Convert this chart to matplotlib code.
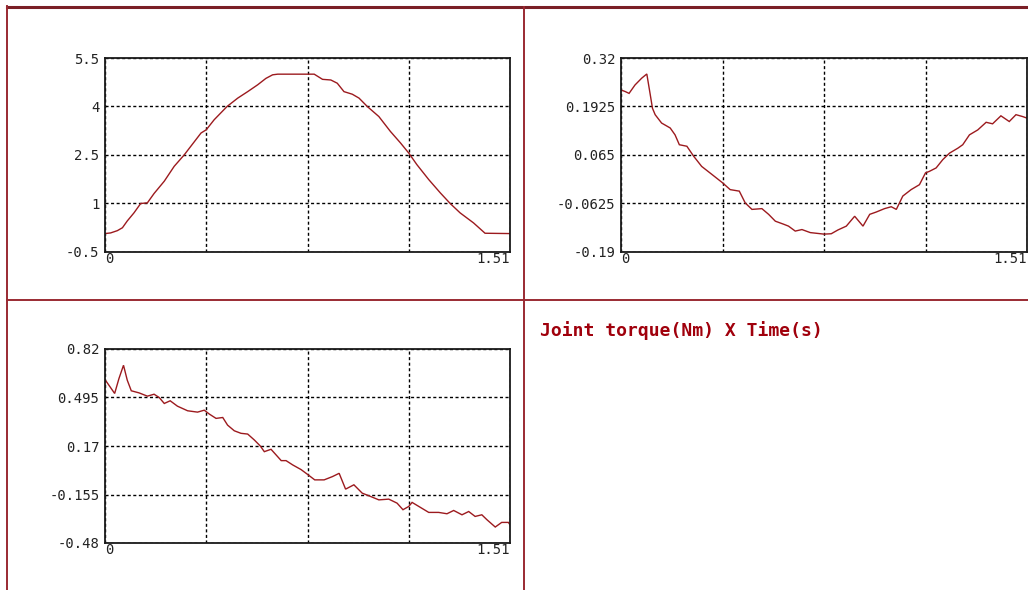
import matplotlib
matplotlib.use('Agg')
import matplotlib.pyplot as plt
from matplotlib.lines import Line2D

# ------------------------------------------------------------
# Joint torque samples (time in s, torque in Nm)
# ------------------------------------------------------------
t1 = [0.0, 0.021, 0.046, 0.065, 0.083, 0.108, 0.133, 0.158, 0.183, 0.221,
      0.258, 0.295, 0.320, 0.358, 0.3775, 0.407, 0.455, 0.495, 0.532, 0.569,
      0.600, 0.625, 0.644, 0.780, 0.811, 0.842, 0.866, 0.891, 0.922, 0.947,
      0.978, 1.021, 1.064, 1.102, 1.1325, 1.163, 1.207, 1.250, 1.287, 1.324,
      1.374, 1.417, 1.51]
tau1 = [0.07, 0.09, 0.16, 0.25, 0.46, 0.71, 1.0, 1.02, 1.31, 1.69,
        2.15, 2.5, 2.77, 3.18, 3.28, 3.59, 4.0, 4.26, 4.46, 4.67,
        4.87, 4.98, 5.0, 5.0, 4.84, 4.82, 4.72, 4.46, 4.38, 4.26,
        4.0, 3.69, 3.23, 2.87, 2.56, 2.20, 1.74, 1.33, 1.0, 0.71,
        0.40, 0.08, 0.07]

t2 = [0.0, 0.015, 0.030, 0.052, 0.077, 0.096, 0.108, 0.117, 0.127, 0.151,
      0.183, 0.201, 0.217, 0.245, 0.270, 0.300, 0.338, 0.3775, 0.406, 0.440,
      0.462, 0.487, 0.524, 0.549, 0.574, 0.605, 0.623, 0.648, 0.673, 0.704,
      0.755, 0.782, 0.807, 0.838, 0.869, 0.900, 0.925, 0.949, 0.980, 1.005,
      1.024, 1.048, 1.079, 1.110, 1.1325, 1.147, 1.172, 1.197, 1.222, 1.253,
      1.271, 1.296, 1.327, 1.358, 1.382, 1.413, 1.444, 1.469, 1.494, 1.51]
tau2 = [0.236, 0.232, 0.227, 0.249, 0.267, 0.278, 0.227, 0.188, 0.171, 0.149,
        0.136, 0.118, 0.092, 0.088, 0.062, 0.035, 0.014, -0.008, -0.026, -0.030,
        -0.061, -0.078, -0.076, -0.091, -0.109, -0.117, -0.122, -0.135, -0.131, -0.139,
        -0.143, -0.142, -0.132, -0.122, -0.096, -0.122, -0.091, -0.085, -0.076, -0.071,
        -0.078, -0.043, -0.026, -0.013, 0.018, 0.022, 0.031, 0.053, 0.070, 0.083,
        0.092, 0.118, 0.131, 0.151, 0.147, 0.168, 0.153, 0.171, 0.166, 0.162]

t3 = [0.0, 0.019, 0.036, 0.052, 0.069, 0.083, 0.098, 0.127, 0.158, 0.183,
      0.202, 0.221, 0.243, 0.270, 0.308, 0.345, 0.370, 0.389, 0.414, 0.439,
      0.457, 0.482, 0.507, 0.532, 0.557, 0.579, 0.594, 0.619, 0.638, 0.657,
      0.675, 0.700, 0.731, 0.755, 0.782, 0.817, 0.848, 0.873, 0.897, 0.928,
      0.959, 0.990, 1.021, 1.058, 1.089, 1.111, 1.1325, 1.145, 1.170, 1.207,
      1.244, 1.275, 1.300, 1.331, 1.356, 1.380, 1.405, 1.424, 1.455, 1.479,
      1.504, 1.51]
tau3 = [0.615, 0.566, 0.522, 0.622, 0.711, 0.611, 0.540, 0.526, 0.504, 0.517,
        0.495, 0.455, 0.473, 0.437, 0.406, 0.397, 0.410, 0.384, 0.355, 0.361,
        0.310, 0.272, 0.255, 0.250, 0.210, 0.170, 0.132, 0.148, 0.110, 0.072,
        0.072, 0.043, 0.012, -0.020, -0.057, -0.057, -0.035, -0.013, -0.119, -0.090,
        -0.146, -0.168, -0.191, -0.186, -0.213, -0.257, -0.235, -0.208, -0.235, -0.275,
        -0.275, -0.284, -0.262, -0.291, -0.269, -0.302, -0.291, -0.324, -0.373, -0.342,
        -0.342, -0.358]

t_end = 1.51
yticks1 = [-0.5, 1, 2.5, 4, 5.5]
ylabels1 = ['-0.5', '1', '2.5', '4', '5.5']
yticks2 = [-0.19, -0.0625, 0.065, 0.1925, 0.32]
ylabels2 = ['-0.19', '-0.0625', '0.065', '0.1925', '0.32']
yticks3 = [-0.48, -0.155, 0.17, 0.495, 0.82]
ylabels3 = ['-0.48', '-0.155', '0.17', '0.495', '0.82']

title_text = 'Joint torque(Nm) X Time(s)'

# ------------------------------------------------------------
# Figure layout (pixel based, 1028 x 590)
# ------------------------------------------------------------
W, H = 1028, 590
LINE_RED = '#9c1a1e'
FRAME_RED = '#9a2a32'

fig = plt.figure(figsize=(W / 100, H / 100), dpi=100, facecolor='white')


def px_axes(left, top, right, bottom):
    return fig.add_axes([left / W, 1 - bottom / H, (right - left) / W, (bottom - top) / H])


def style_axes(ax, t, tau, yticks, ylabels):
    ax.plot(t, tau, color=LINE_RED, lw=1.0, solid_joinstyle='miter')
    ax.set_xlim(0, t_end)
    ax.set_ylim(yticks[0], yticks[-1])
    ax.set_yticks(yticks)
    ax.set_yticklabels(ylabels)
    ax.set_xticks([0, t_end / 4, t_end / 2, 3 * t_end / 4, t_end])
    ax.set_xticklabels(['0', '', '', '', f'{t_end:g}'])
    ax.tick_params(length=0, labelsize=10, labelcolor='#222222', pad=4)
    ax.tick_params(axis='x', pad=0)
    xl = ax.get_xticklabels()
    xl[0].set_ha('left')
    xl[-1].set_ha('right')
    for lab in ax.get_xticklabels() + ax.get_yticklabels():
        lab.set_family('DejaVu Sans Mono')
    ax.grid(True, color='black', lw=1.0, linestyle=(0, (2.2, 1.8)))
    for s in ax.spines.values():
        s.set_color('#1a1a1a')
        s.set_linewidth(1.3)


ax1 = px_axes(105, 58, 510, 252)
style_axes(ax1, t1, tau1, yticks1, ylabels1)

ax2 = px_axes(621, 58, 1027, 252)
style_axes(ax2, t2, tau2, yticks2, ylabels2)

ax3 = px_axes(105, 349, 510, 543)
style_axes(ax3, t3, tau3, yticks3, ylabels3)

# Panel frame lines
def hline(y, x0, x1, lw, color):
    fig.add_artist(Line2D([x0 / W, x1 / W], [1 - y / H, 1 - y / H],
                          transform=fig.transFigure, color=color, lw=lw))


def vline(x, y0, y1, lw, color):
    fig.add_artist(Line2D([x / W, x / W], [1 - y0 / H, 1 - y1 / H],
                          transform=fig.transFigure, color=color, lw=lw))


hline(7, 7, W, 2.2, '#7a1f26')
vline(7, 6, H, 1.4, FRAME_RED)
vline(523.5, 7, H, 1.4, FRAME_RED)
hline(300, 7, W, 1.4, FRAME_RED)

fig.text(540 / W, 1 - 331 / H, title_text, family='DejaVu Sans Mono',
         weight='bold', fontsize=13, color='#a0000c', ha='left', va='center')

plt.savefig('out.png', dpi=100, facecolor='white')
plt.close()
